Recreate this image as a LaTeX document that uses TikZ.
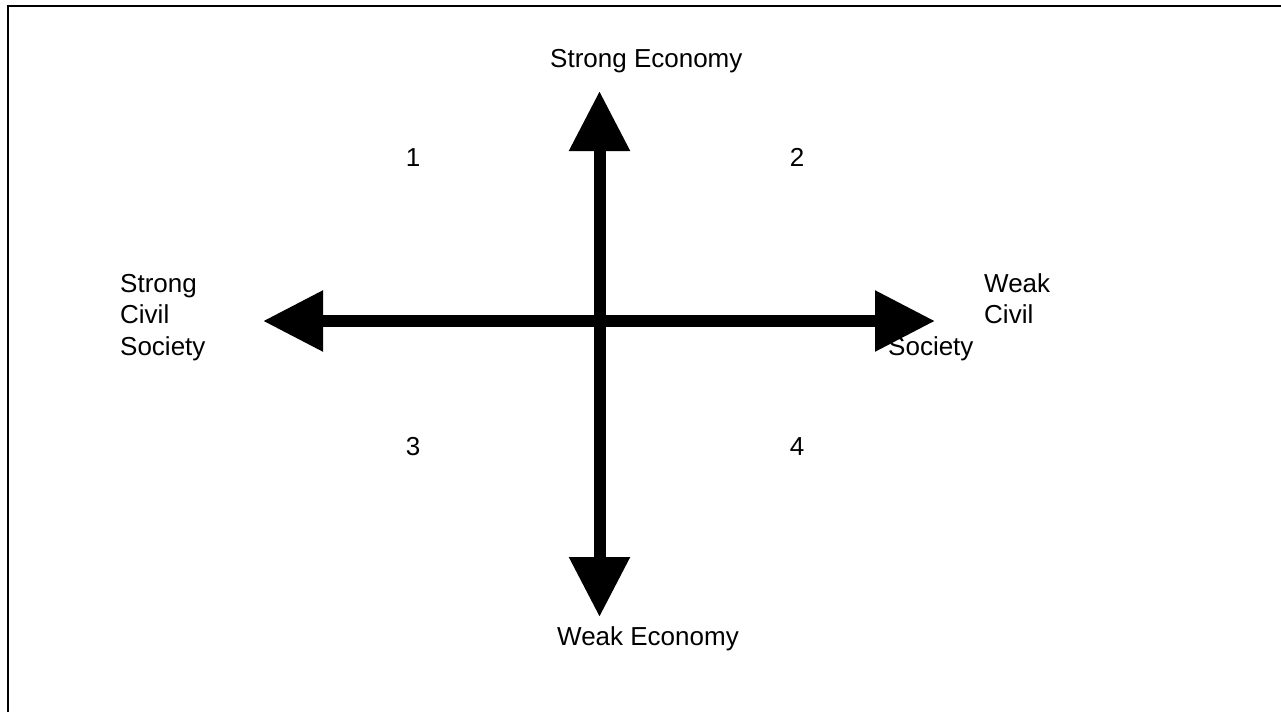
\documentclass[tikz,border=0pt]{standalone}
\usepackage{fontspec}
\setmainfont{Liberation Sans}
\usetikzlibrary{arrows.meta}
\begin{document}
\begin{tikzpicture}[x=1pt,y=-1pt,
  lbl/.style={inner sep=0pt,font=\fontsize{26}{31}\selectfont},
  axis/.style={line width=12pt,
    {Triangle[length=60pt,width=58pt]}-{Triangle[length=60pt,width=58pt]}},
  frame/.style={line width=2pt}]
  \useasboundingbox (0,0) rectangle (1281,712);
  % open frame along the left and top edges
  \coordinate (fl) at (8,712);
  \coordinate (ft) at (1281,5.5);
  \draw[frame] (fl) |- (ft);

  % axis end points
  \coordinate (top) at (599.5,91);
  \coordinate (bot) at (599.5,617);
  \coordinate (lft) at (263,321);
  \coordinate (rgt) at (935,321);
  \draw[axis] (bot) -- (top);
  \draw[axis] (lft) -- (rgt);

  % axis labels
  \node[lbl,anchor=base west] (se) at (550,67) {Strong Economy};
  \node[lbl,anchor=base west] (we) at (557,645) {Weak Economy};
  \node[lbl,anchor=base west] (sc1) at (120,292) {Strong};
  \node[lbl,anchor=base west] (sc2) at (120,323.5) {Civil};
  \node[lbl,anchor=base west] (sc3) at (120,355) {Society};
  \node[lbl,anchor=base west] (wc1) at (984,292) {Weak};
  \node[lbl,anchor=base west] (wc2) at (984,323.5) {Civil};
  \node[lbl,anchor=base west] (wc3) at (888,355) {Society};

  % quadrant numbers
  \node[lbl,anchor=base] (q1) at (413,166) {1};
  \node[lbl,anchor=base] (q2) at (797,166) {2};
  \node[lbl,anchor=base] (q3) at (413,455) {3};
  \node[lbl,anchor=base] (q4) at (797,455) {4};
\end{tikzpicture}
\end{document}
